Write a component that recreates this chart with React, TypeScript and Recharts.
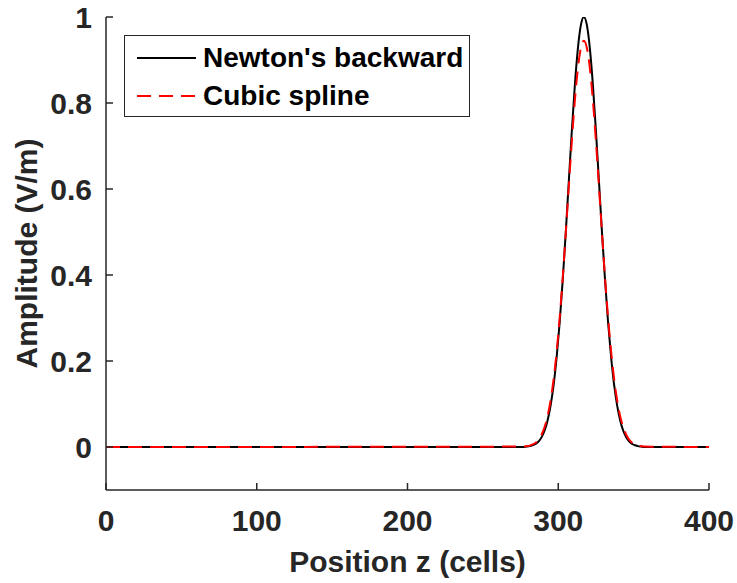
import { LineChart, Line, XAxis, YAxis, Legend } from 'recharts';

// position z (cells) where the field was sampled
const zPos = [
  0, 277, 279, 281, 283, 285, 287, 289, 291, 293, 295, 297, 299, 301, 303, 305,
  307, 309, 311, 313, 315, 317, 319, 321, 323, 325, 327, 329, 331, 333, 335,
  337, 339, 341, 343, 345, 347, 349, 351, 353, 355, 357, 400,
];

// Newton's backward interpolation (black, solid)
const newtonAmp = [
  0, 0, 0.001, 0.002, 0.004, 0.007, 0.013, 0.023, 0.039, 0.063, 0.098, 0.146,
  0.211, 0.292, 0.39, 0.5, 0.618, 0.735, 0.841, 0.926, 0.981, 1.0, 0.981, 0.926,
  0.841, 0.735, 0.618, 0.5, 0.39, 0.292, 0.211, 0.146, 0.098, 0.063, 0.039,
  0.023, 0.013, 0.007, 0.004, 0.002, 0.001, 0, 0,
];

// cubic spline (red, dashed)
const splineAmp = [
  0, 0.001, 0.002, 0.003, 0.006, 0.01, 0.017, 0.029, 0.047, 0.073, 0.11, 0.16,
  0.224, 0.303, 0.395, 0.498, 0.606, 0.711, 0.805, 0.88, 0.928, 0.945, 0.928,
  0.88, 0.805, 0.711, 0.606, 0.498, 0.395, 0.303, 0.224, 0.16, 0.11, 0.073,
  0.047, 0.029, 0.017, 0.01, 0.006, 0.003, 0.002, 0.001, 0,
];

const seriesNames = ["Newton's backward", 'Cubic spline'];
const xTicks = [0, 100, 200, 300, 400];
const yTicks = [0, 0.2, 0.4, 0.6, 0.8, 1];

const data = zPos.map((z, i) => ({ z, newton: newtonAmp[i], spline: splineAmp[i] }));

const FONT = '"Liberation Sans", Arial, Helvetica, sans-serif';
const AXIS = '#262626';
const TICK_LEN = 7;
const X_GAP = 20;
const Y_GAP = 14;
const textStyle = { fontFamily: FONT, fontWeight: 'bold', fontSize: 30, fill: AXIS } as const;

// matlab style: ticks point into the plot box
const BottomTick = ({ x, y, payload }: any) => (
  <g>
    <line x1={x} x2={x} y1={y - X_GAP} y2={y - X_GAP - TICK_LEN} stroke={AXIS} strokeWidth={1.5} />
    <text x={x} y={y} dy="0.71em" textAnchor="middle" style={textStyle}>
      {payload.value}
    </text>
  </g>
);

const LeftTick = ({ x, y, payload }: any) => (
  <g>
    <line x1={x + Y_GAP} x2={x + Y_GAP + TICK_LEN} y1={y} y2={y} stroke={AXIS} strokeWidth={1.5} />
    <text x={x} y={y} dy="0.355em" textAnchor="end" style={textStyle}>
      {payload.value}
    </text>
  </g>
);

const TopTick = ({ x, y }: any) => (
  <line x1={x} x2={x} y1={y} y2={y + TICK_LEN} stroke={AXIS} strokeWidth={1.5} />
);

const RightTick = ({ x, y }: any) => (
  <line x1={x} x2={x - TICK_LEN} y1={y} y2={y} stroke={AXIS} strokeWidth={1.5} />
);

const LegendBox = ({ payload }: any) => {
  const items = [...(payload || [])].sort(
    (a: any, b: any) => seriesNames.indexOf(a.value) - seriesNames.indexOf(b.value),
  );
  return (
    <div
      style={{
        width: 346,
        height: 82,
        boxSizing: 'border-box',
        border: `1px solid ${AXIS}`,
        background: '#fff',
        paddingTop: 3,
        paddingLeft: 12,
        fontFamily: FONT,
        fontWeight: 'bold',
        fontSize: 28,
        color: '#000',
      }}
    >
      {items.map((entry: any) => (
        <div key={entry.value} style={{ display: 'flex', alignItems: 'center', height: 38 }}>
          <svg width={59} height={4} style={{ marginRight: 7 }}>
            <line
              x1={0}
              y1={2}
              x2={59}
              y2={2}
              stroke={entry.color}
              strokeWidth={2}
              strokeDasharray={entry.payload?.strokeDasharray}
            />
          </svg>
          <span style={{ lineHeight: 1 }}>{entry.value}</span>
        </div>
      ))}
    </div>
  );
};

export default function App() {
  return (
    <div style={{ position: 'absolute', left: 0, top: 0, background: '#fff' }}>
      <LineChart
        width={737}
        height={583}
        data={data}
        margin={{ top: 17, right: 28, left: 0, bottom: 0 }}
      >
        <XAxis
          dataKey="z"
          type="number"
          domain={[0, 400]}
          ticks={xTicks}
          height={93}
          tickSize={0}
          tickMargin={X_GAP}
          tickLine={false}
          tick={<BottomTick />}
          stroke={AXIS}
          strokeWidth={1.5}
          label={{
            content: ({ viewBox }: any) => (
              <text
                x={viewBox.x + viewBox.width / 2}
                y={viewBox.y + 82}
                textAnchor="middle"
                style={textStyle}
              >
                Position z (cells)
              </text>
            ),
          }}
        />
        <XAxis
          xAxisId="top"
          dataKey="z"
          type="number"
          orientation="top"
          domain={[0, 400]}
          ticks={xTicks}
          height={0}
          tickSize={0}
          tickMargin={0}
          tickLine={false}
          tick={<TopTick />}
          stroke={AXIS}
          strokeWidth={1.5}
        />
        <YAxis
          type="number"
          domain={[-0.1, 1]}
          ticks={yTicks}
          width={106}
          tickSize={0}
          tickMargin={Y_GAP}
          tickLine={false}
          tick={<LeftTick />}
          stroke={AXIS}
          strokeWidth={1.5}
          allowDataOverflow
          label={{
            content: ({ viewBox }: any) => {
              const cy = viewBox.y + viewBox.height / 2;
              return (
                <text
                  x={37}
                  y={cy}
                  textAnchor="middle"
                  transform={`rotate(-90, 37, ${cy})`}
                  style={textStyle}
                >
                  Amplitude (V/m)
                </text>
              );
            },
          }}
        />
        <YAxis
          yAxisId="right"
          orientation="right"
          type="number"
          domain={[-0.1, 1]}
          ticks={yTicks}
          width={0}
          tickSize={0}
          tickMargin={0}
          tickLine={false}
          tick={<RightTick />}
          stroke={AXIS}
          strokeWidth={1.5}
        />
        <Legend
          layout="vertical"
          align="center"
          verticalAlign="middle"
          content={<LegendBox />}
          wrapperStyle={{ top: 35, left: 124, width: 346 }}
        />
        <Line
          type="monotone"
          dataKey="newton"
          name={seriesNames[0]}
          stroke="#000000"
          strokeWidth={2}
          dot={false}
          isAnimationActive={false}
        />
        <Line
          type="monotone"
          dataKey="spline"
          name={seriesNames[1]}
          stroke="#ff0000"
          strokeWidth={2}
          strokeDasharray="14 8"
          dot={false}
          isAnimationActive={false}
        />
      </LineChart>
    </div>
  );
}
